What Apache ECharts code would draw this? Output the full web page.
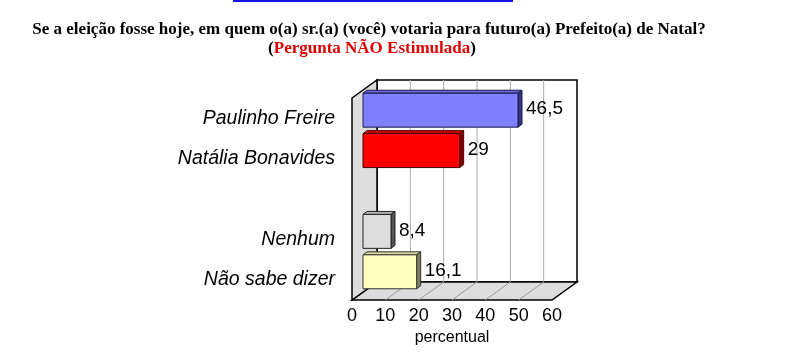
<!DOCTYPE html>
<html>
<head>
<meta charset="utf-8">
<script src="https://cdn.jsdelivr.net/npm/echarts@6/dist/echarts.min.js"></script>
<style>
  html, body { margin: 0; padding: 0; background: #fff; }
  #chart { width: 791px; height: 352px; }
</style>
</head>
<body>
<div id="chart"></div>
<script>
var categories = ['Paulinho Freire', 'Natália Bonavides', '', 'Nenhum', 'Não sabe dizer'];
var values = [46.5, 29, null, 8.4, 16.1];
var xMin = 0, xMax = 60, xStep = 10;

// face colours per category: front, top, side, edge
var palette = [
  ['#8080ff', '#6868d8', '#33337f', '#1a1a4d'],
  ['#ff0000', '#cc0000', '#7f0000', '#4d0000'],
  null,
  ['#dddddd', '#b4b4b4', '#555555', '#222222'],
  ['#ffffc0', '#d8d8a0', '#80805c', '#333333']
];

var DX = 25, DY = -18;       // depth of the box
var BX = 11, BY = -8;        // bars sit part way in
var bx = 4, by = -3;         // bar thickness
var sans = 'Liberation Sans, Arial, sans-serif';
var serif = 'Liberation Serif, serif';

var fmt = v => String(v).replace('.', ',');

var chart = echarts.init(document.getElementById('chart'));

var renderFrame = (params, api) => {
  var cs = params.coordSys;
  var x = cs.x, y = cs.y, w = cs.width, h = cs.height;
  var kids = [];
  // back wall
  kids.push({ type: 'rect', shape: { x: x + DX, y: y + DY, width: w, height: h },
    style: { fill: '#fff', stroke: '#000', lineWidth: 1.5 } });
  // floor
  kids.push({ type: 'polygon', shape: { points: [[x, y + h], [x + w, y + h], [x + w + DX, y + h + DY], [x + DX, y + h + DY]] },
    style: { fill: '#dddddd', stroke: '#000', lineWidth: 1.5 } });
  // grid lines on wall and floor
  for (var v = xMin + xStep; v < xMax; v += xStep) {
    var xt = api.coord([v, 0])[0];
    kids.push({ type: 'line', shape: { x1: xt + DX, y1: y + DY, x2: xt + DX, y2: y + h + DY },
      style: { stroke: '#aaaaaa', lineWidth: 1 } });
    kids.push({ type: 'line', shape: { x1: xt + DX, y1: y + h + DY, x2: xt, y2: y + h },
      style: { stroke: '#999999', lineWidth: 1 } });
  }
  // left wall
  kids.push({ type: 'polygon', shape: { points: [[x, y], [x + DX, y + DY], [x + DX, y + h + DY], [x, y + h]] },
    style: { fill: '#dddddd', stroke: '#000', lineWidth: 1.5 } });
  return { type: 'group', children: kids };
};

var renderBar = (params, api) => {
  var c = api.value(0), v = api.value(1);
  var col = palette[c];
  var p0 = api.coord([0, c]), p1 = api.coord([v, c]);
  var hh = api.size([0, 1])[1] * 0.84;
  var x0 = p0[0] + BX, x1 = p1[0] + BX, yc = p0[1] + BY;
  var top = yc - hh / 2, bot = yc + hh / 2;
  return {
    type: 'group',
    children: [
      { type: 'polygon', shape: { points: [[x0, top], [x0 + bx, top + by], [x1 + bx, top + by], [x1, top]] },
        style: { fill: col[1], stroke: col[3], lineWidth: 1 } },
      { type: 'polygon', shape: { points: [[x1, top], [x1 + bx, top + by], [x1 + bx, bot + by], [x1, bot]] },
        style: { fill: col[2], stroke: col[3], lineWidth: 1 } },
      { type: 'rect', shape: { x: x0, y: top, width: x1 - x0, height: hh },
        style: { fill: col[0], stroke: col[3], lineWidth: 1 } },
      { type: 'text', style: { text: fmt(v), x: x1 + 8, y: yc - 1, fill: '#000',
        fontSize: 19, fontFamily: sans, align: 'left', verticalAlign: 'middle' } }
    ]
  };
};

var barData = categories.map((c, i) => [i, values[i]]).filter(d => d[1] != null);

var option = {
  animation: false,
  title: [
    {
      text: 'Se a eleição fosse hoje, em quem o(a) sr.(a) (você) votaria para futuro(a) Prefeito(a) de Natal?',
      left: 369, top: 21, textAlign: 'center', padding: 0,
      textStyle: { fontFamily: serif, fontWeight: 'bold', fontSize: 17, color: '#000' }
    },
    {
      text: '{k|(}{r|Pergunta NÃO Estimulada}{k|)}',
      left: 372, top: 40, textAlign: 'center', padding: 0,
      textStyle: {
        rich: {
          k: { fontFamily: serif, fontWeight: 'bold', fontSize: 17, color: '#000' },
          r: { fontFamily: serif, fontWeight: 'bold', fontSize: 17, color: '#e00000' }
        }
      }
    }
  ],
  graphic: [
    { type: 'rect', shape: { x: 233, y: 0, width: 280, height: 2 }, style: { fill: '#1414e6' } }
  ],
  grid: { left: 352, right: 239, top: 98, bottom: 52, containLabel: false },
  xAxis: {
    type: 'value', min: xMin, max: xMax, interval: xStep,
    axisLine: { show: false }, axisTick: { show: false }, splitLine: { show: false },
    axisLabel: { color: '#000', fontSize: 18, fontFamily: sans, margin: 7 },
    name: 'percentual', nameLocation: 'middle', nameGap: 29,
    nameTextStyle: { color: '#000', fontSize: 16, fontFamily: sans }
  },
  yAxis: {
    type: 'category', data: categories, inverse: true,
    axisLine: { show: false }, axisTick: { show: false }, splitLine: { show: false },
    axisLabel: { color: '#000', fontSize: 19.5, fontStyle: 'italic', fontFamily: sans, margin: 17 }
  },
  series: [
    { type: 'custom', renderItem: renderFrame, data: [[0, 0]], clip: false, silent: true, z: 1,
      encode: { x: 1, y: 0 } },
    { type: 'custom', renderItem: renderBar, data: barData, clip: false, z: 2,
      encode: { x: 1, y: 0 } }
  ]
};

chart.setOption(option);
</script>
</body>
</html>
